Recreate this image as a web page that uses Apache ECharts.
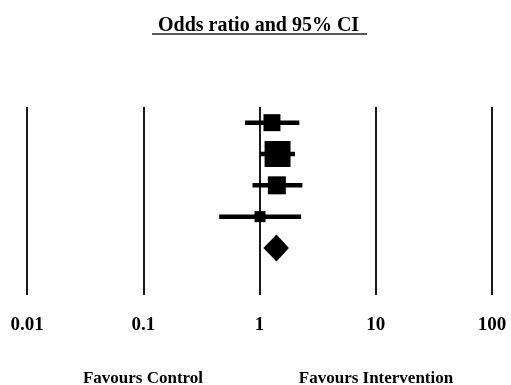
<!DOCTYPE html>
<html>
<head>
<meta charset="utf-8">
<script src="https://cdn.jsdelivr.net/npm/echarts@6/dist/echarts.min.js"></script>
<style>
html,body{margin:0;padding:0;background:#fff;}
#chart{width:511px;height:385px;}
</style>
</head>
<body>
<div id="chart"></div>
<script>
// ---- data ----
var studies = ['Study 1', 'Study 2', 'Study 3', 'Study 4'];
var oddsRatio = [1.28, 1.43, 1.41, 1.01];
var ciLow = [0.75, 1.01, 0.87, 0.45];
var ciHigh = [2.20, 2.02, 2.34, 2.28];
var weights = [20.5, 47.9, 23.0, 8.6];
var pooledLabel = 'Overall';
var pooledOR = 1.40;
var pooledLow = 1.08;
var pooledHigh = 1.79;
var tickValues = [0.01, 0.1, 1, 10, 100];
var tickLabels = ['0.01', '0.1', '1', '10', '100'];
var titleText = 'Odds ratio and 95% CI';
var leftFavour = 'Favours Control';
var rightFavour = 'Favours Intervention';

var categories = studies.concat([pooledLabel, '']);
var FONT = '"Liberation Serif","Times New Roman",serif';

var chart = echarts.init(document.getElementById('chart'), null, {renderer: 'canvas'});

var ciData = studies.map(function (s, i) { return [ciLow[i], ciHigh[i], i]; });
var pointData = studies.map(function (s, i) { return { value: [oddsRatio[i], i], w: weights[i] }; });

var option = {
  animation: false,
  backgroundColor: '#fff',
  title: {
    text: titleText,
    left: 153,
    top: 11,
    textStyle: { fontFamily: FONT, fontWeight: 'bold', fontSize: 20, color: '#000' }
  },
  grid: { left: 27, right: 19, top: 107, bottom: 90, containLabel: false },
  xAxis: {
    type: 'log',
    logBase: 10,
    min: 0.01,
    max: 100,
    axisLine: { show: false },
    axisTick: { show: false },
    splitLine: { show: true, lineStyle: { color: '#1a1a1a', width: 2 } },
    axisLabel: {
      margin: 21,
      fontFamily: FONT,
      fontWeight: 'bold',
      fontSize: 19,
      color: '#000',
      formatter: function (v) {
        var idx = tickValues.findIndex(function (t) { return Math.abs(Math.log10(t) - Math.log10(v)) < 1e-6; });
        return idx >= 0 ? tickLabels[idx] : '';
      }
    }
  },
  yAxis: {
    type: 'category',
    data: categories,
    inverse: true,
    axisLine: { show: false },
    axisTick: { show: false },
    axisLabel: { show: false },
    splitLine: { show: false }
  },
  graphic: [
    { type: 'line', shape: { x1: 152, y1: 34, x2: 367, y2: 34 }, style: { stroke: '#222', lineWidth: 1.5 } },
    { type: 'text', x: 143, y: 379, style: { text: leftFavour, textAlign: 'center', textVerticalAlign: 'middle', font: 'bold 17px ' + FONT, fill: '#000' } },
    { type: 'text', x: 376, y: 379, style: { text: rightFavour, textAlign: 'center', textVerticalAlign: 'middle', font: 'bold 17px ' + FONT, fill: '#000' } }
  ],
  series: [
    {
      type: 'custom',
      name: 'CI',
      renderItem: function (params, api) {
        var p1 = api.coord([api.value(0), api.value(2)]);
        var p2 = api.coord([api.value(1), api.value(2)]);
        return {
          type: 'line',
          shape: { x1: p1[0], y1: p1[1], x2: p2[0], y2: p2[1] },
          style: { stroke: '#000', lineWidth: 4.5 }
        };
      },
      encode: { x: [0, 1], y: 2 },
      data: ciData,
      z: 3
    },
    {
      type: 'scatter',
      name: 'OR',
      symbol: 'rect',
      symbolSize: function (val, params) { return Math.sqrt(weights[params.dataIndex]) * 3.75; },
      itemStyle: { color: '#000', opacity: 1 },
      data: pointData,
      z: 4
    },
    {
      type: 'custom',
      name: 'Pooled',
      renderItem: function (params, api) {
        var c = api.coord([api.value(0), api.value(3)]);
        var l = api.coord([api.value(1), api.value(3)]);
        var r = api.coord([api.value(2), api.value(3)]);
        var h = 13.5;
        return {
          type: 'polygon',
          shape: { points: [[l[0], c[1]], [c[0], c[1] - h], [r[0], c[1]], [c[0], c[1] + h]] },
          style: { fill: '#000' }
        };
      },
      encode: { x: [0, 1, 2], y: 3 },
      data: [[pooledOR, pooledLow, pooledHigh, studies.length]],
      z: 4
    }
  ]
};
chart.setOption(option);
</script>
</body>
</html>
